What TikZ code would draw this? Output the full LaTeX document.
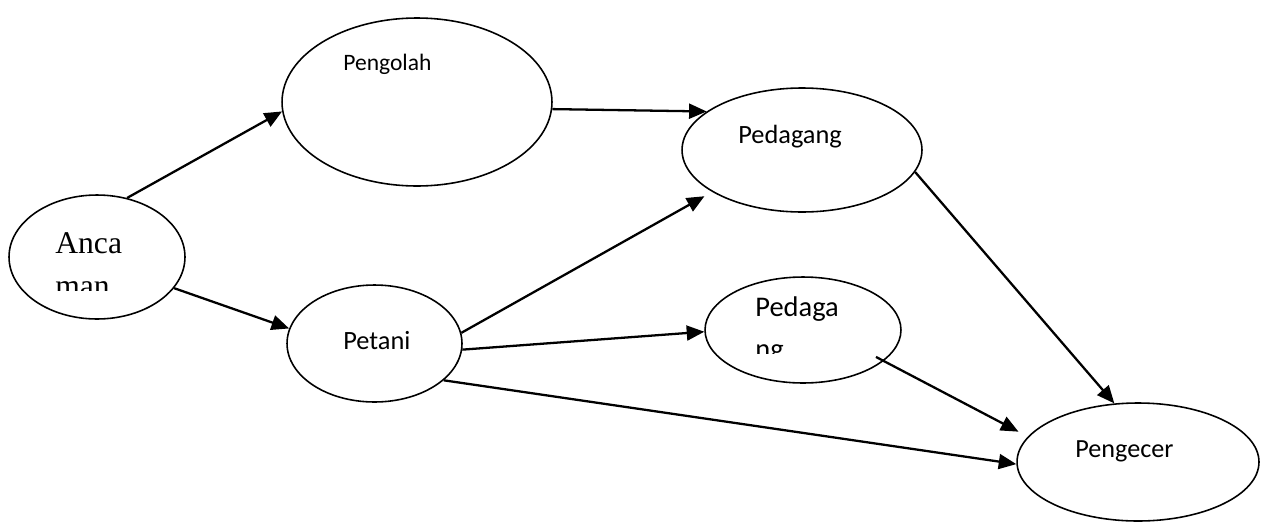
\documentclass[tikz,border=0pt]{standalone}
\usepackage{fontspec}
\setmainfont{Carlito}
\newfontfamily\timesfont{Liberation Serif}
\usetikzlibrary{shapes.geometric,arrows.meta}

\begin{document}
\begin{tikzpicture}[x=0.02cm,y=-0.02cm,
  actor/.style={draw,ellipse,line width=0.9pt,inner sep=0pt},
  flow/.style={-{Triangle[length=10pt,width=8.5pt]},line width=1.3pt},
  lbl/.style={anchor=base west,inner sep=0pt}]
\useasboundingbox (0,0) rectangle (1266,521);

% the actors of the chain
\node[actor,minimum width=3.52cm,minimum height=2.48cm] (anca) at (97,257) {};
\node[actor,minimum width=5.4cm,minimum height=3.36cm] (pengolah) at (417,102) {};
\node[actor,minimum width=4.8cm,minimum height=2.48cm] (pedagang) at (802,150) {};
\node[actor,minimum width=3.5cm,minimum height=2.34cm] (petani) at (374.5,343.5) {};
\node[actor,minimum width=3.92cm,minimum height=2.12cm] (pedagangb) at (803,330) {};
\node[actor,minimum width=4.84cm,minimum height=2.36cm] (pengecer) at (1138,462) {};

% labels
\node[lbl] (tpengolah) at (343,70) {\fontsize{13.4}{16}\selectfont Pengolah};
\node[lbl] (tpedagang) at (738,143) {\fontsize{15}{18}\selectfont Pedagang};
\node[lbl] (tpetani) at (343,349) {\fontsize{15}{18}\selectfont Petani};
\node[lbl] (tpengecer) at (1075,457) {\fontsize{14.9}{18}\selectfont Pengecer};
\node[lbl] (tpedaga) at (755,316) {\fontsize{16.2}{19}\selectfont Pedaga};
\node[lbl] (tanca) at (55,253) {\timesfont\fontsize{18}{21}\selectfont Anca};
\begin{scope}
\clip (700,260) rectangle (900,353);
\node[lbl] (tng) at (755,358) {\fontsize{16.2}{19}\selectfont ng};
\end{scope}
\begin{scope}
\clip (20,260) rectangle (180,290);
\node[lbl] (tman) at (55,296) {\timesfont\fontsize{18}{21}\selectfont man};
\end{scope}

% flows
\draw[flow] (anca.63.4) -- (pengolah.184.3);
\draw[flow] (anca.-22.9) -- (petani.170.5);
\draw[flow] (pengolah.-3.8) -- (pedagang.158.1);
\draw[flow,shorten >=5pt] (petani.7.5) -- (pedagang.205.5);
\draw[flow] (petani.-4.9) -- (pedagangb.181.2);
\draw[flow] (petani.-28.6) -- (pengecer.181.4);
\draw[flow] (pedagang.-11.4) -- (pengecer.112.6);
\draw[flow,shorten <=-5pt,shorten >=6pt] (pedagangb.-21.8) -- (pengecer.167.5);
\end{tikzpicture}
\end{document}
